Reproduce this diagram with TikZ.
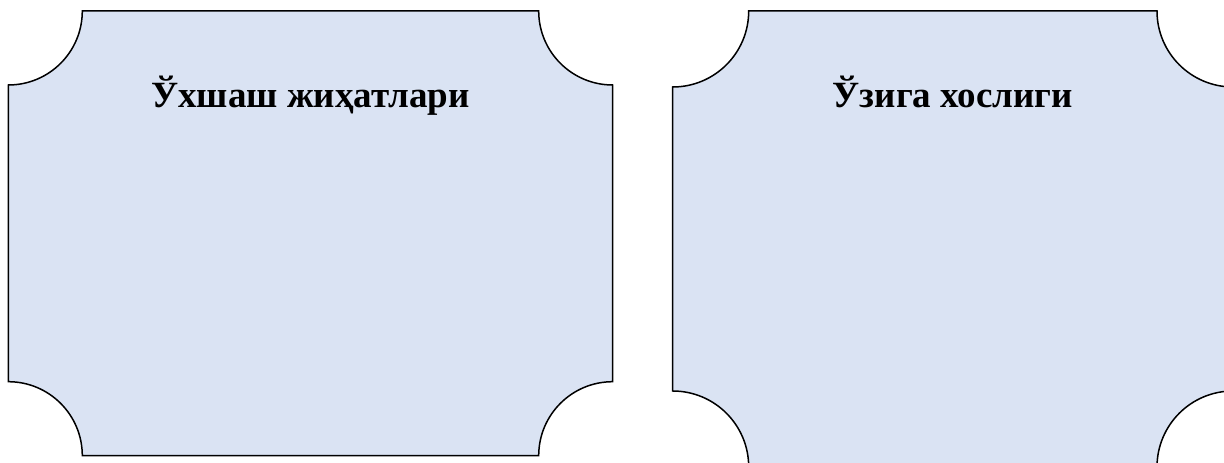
\documentclass[tikz,border=0pt]{standalone}
\usepackage{fontspec}
\setmainfont{Liberation Serif}
\definecolor{plaquefill}{HTML}{DAE3F3}

\begin{document}
\begin{tikzpicture}[x=1pt,y=1pt,
    plaque/.style={draw=black,fill=plaquefill,line width=1.5pt,line join=miter},
    heading/.style={anchor=base,font=\bfseries\fontsize{37}{44}\selectfont}]
  \useasboundingbox (0,0) rectangle (1224,463);
  \clip (0,0) rectangle (1224,463);
  % plaques with cut-in corners: left x, right x, bottom y, radius
  \foreach \xa/\xb/\ya/\r in {8.3/612.7/7.3/74, 672.7/1233/-4/76}
    \path[plaque] (\xa+\r,452) -- (\xb-\r,452) arc[start angle=180,end angle=270,radius=\r]
      -- (\xb,\ya+\r) arc[start angle=90,end angle=180,radius=\r]
      -- (\xa+\r,\ya) arc[start angle=0,end angle=90,radius=\r]
      -- (\xa,452-\r) arc[start angle=270,end angle=360,radius=\r] -- cycle;
  \node[heading] (common) at (310.5,355) {Ўхшаш жиҳатлари};
  \node[heading] (own) at (952.8,355) {Ўзига хослиги};
\end{tikzpicture}
\end{document}
